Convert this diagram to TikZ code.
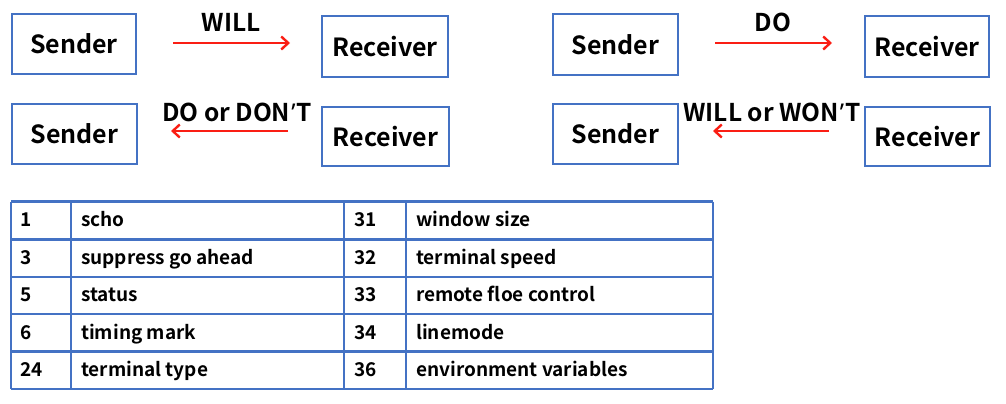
\documentclass[tikz,border=0pt]{standalone}
\usepackage{fontspec}
\setmainfont{Noto Sans CJK SC}[BoldFont=* Bold]
\newfontfamily\quotefont{Noto Sans}
\usetikzlibrary{arrows.meta}
\definecolor{boxblue}{RGB}{68,114,196}
\definecolor{arrred}{RGB}{250,30,20}
\newcommand{\apos}{\kern1pt{\quotefont\bfseries ’}\kern1pt}
\tikzset{
  party/.style={draw=boxblue, line width=2pt, minimum width=#1, minimum height=60pt,
    inner sep=0pt, font=\fontsize{25}{28}\selectfont\bfseries},
  party/.default=125pt,
  msg/.style={draw=arrred, line width=2.4pt, -{Straight Barb[length=7pt,width=13pt,line width=2.4pt]}},
  msglabel/.style={font=\fontsize{24.5}{27}\selectfont\bfseries, inner sep=0pt},
  grid/.style={draw=boxblue, line width=2.4pt},
  cell/.style={anchor=base west, inner sep=0pt, font=\fontsize{19}{22}\selectfont\bfseries}
}
\begin{document}
\begin{tikzpicture}[x=1pt, y=-1pt]
\useasboundingbox (0,0) rectangle (1006,404);

% --- WILL / DO exchange, left pair ---
\node[party=124pt] (s1) at (74,44) {Sender};
\node[party=126pt, minimum height=61pt] (r1) at (385,46.5) {Receiver};
\node[party] (s2) at (74.5,134) {Sender};
\node[party=127pt, minimum height=59pt] (r2) at (385.5,136.5) {Receiver};
\coordinate (a1s) at (173,43);
\coordinate (a1e) at (290,43);
\coordinate (a2s) at (288,131);
\coordinate (a2e) at (171,131);
\draw[msg] (a1s) -- (a1e);
\draw[msg] (a2s) -- (a2e);
\node[msglabel] (l1) at (231,22) {WILL};
\node[msglabel] (l2) at (237,112) {DO or DON\apos T};

% --- DO / WILL exchange, right pair ---
\node[party, minimum height=61pt] (s3) at (615.5,44.5) {Sender};
\node[party=124pt, minimum height=61pt] (r3) at (927,46.5) {Receiver};
\node[party] (s4) at (615.5,134) {Sender};
\node[party, minimum height=59pt] (r4) at (927.5,136.5) {Receiver};
\coordinate (a3s) at (715,43);
\coordinate (a3e) at (832,43);
\coordinate (a4s) at (829,131);
\coordinate (a4e) at (713,131);
\draw[msg] (a3s) -- (a3e);
\draw[msg] (a4s) -- (a4e);
\node[msglabel] (l3) at (773,22) {DO};
\node[msglabel] (l4) at (772,112) {WILL or WON\apos T};

% --- option code table ---
\foreach \y in {201.5,239.5,277,314,351.5,389} \draw[grid] (11,\y) -- (713,\y);
\foreach \x in {11,71,344,406,713} \draw[grid] (\x,201.5) -- (\x,389);
\foreach \y/\na/\ta/\nb/\tb in {
  226.5/1/scho/31/window size,
  264/3/suppress go ahead/32/terminal speed,
  301.5/5/status/33/remote floe control,
  339/6/timing mark/34/linemode,
  376.5/24/terminal type/36/environment variables} {
  \node[cell] at (20,\y) {\na};
  \node[cell] at (81,\y) {\ta};
  \node[cell] at (354,\y) {\nb};
  \node[cell] at (416,\y) {\tb};
}
\end{tikzpicture}
\end{document}
